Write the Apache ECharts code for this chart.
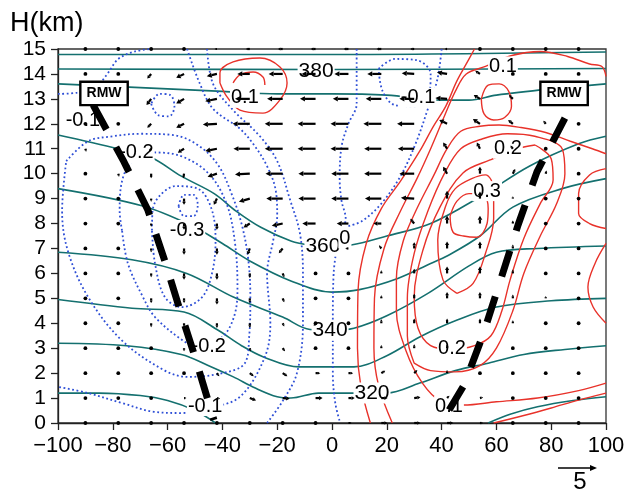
<!DOCTYPE html>
<html><head><meta charset="utf-8">
<script src="https://cdn.jsdelivr.net/npm/echarts@6/dist/echarts.min.js"></script>
<style>html,body{margin:0;padding:0;background:#fff}#c{width:628px;height:489px}</style>
</head><body><div id="c"></div>
<script>
// ---------- data ----------
const xTicks = [-100,-80,-60,-40,-20,0,20,40,60,80,100];
const yTicks = [0,1,2,3,4,5,6,7,8,9,10,11,12,13,14,15];

// potential temperature isentropes (x km, H km)
const th310L = [[-100,1.2],[-85,1.2],[-70,1.1],[-60,0.9],[-50,0.5],[-42.5,0]];
const th310R = [[57,0],[65,0.35],[75,0.65],[88,0.9],[100,1.05]];
const th320 = [[-100,3.2],[-75,3.1],[-55,2.75],[-45,2.3],[-36,1.85],[-28,1.4],[-20,1.05],[-15,1.0],[-5,1.2],[7,1.2],[20,1.2],[32,1.6],[45,2.1],[57,2.4],[70,2.75],[85,2.95],[100,3.1]];
const th330 = [[-100,4.95],[-73,4.6],[-54,4.45],[-42,3.75],[-33,3.1],[-25,2.65],[-12,2.25],[0,2.25],[8,2.25],[20,2.7],[32,3.45],[45,4.1],[60,4.65],[80,4.9],[100,5.0]];
const th340 = [[-100,6.85],[-73,6.55],[-53,6.0],[-36,5.05],[-18,4.25],[-8,3.75],[0,3.72],[8,3.8],[20,4.3],[35,5.2],[50,6.3],[60,6.85],[75,7.0],[100,7.1]];
const th350 = [[-100,9.4],[-69,8.7],[-51,7.9],[-40,7.2],[-30,6.5],[-15,5.7],[0,5.25],[10,5.35],[24,5.8],[36,6.4],[42,6.7],[54,7.5],[66,8.66],[84,9.4],[100,9.8]];
const th360 = [[-100,11.55],[-78,11.0],[-66,10.65],[-55,9.9],[-43,9.2],[-35,8.5],[-26,7.85],[-15,7.3],[-8,7.14],[0,7.1],[7,7.14],[20,7.5],[36,8.0],[54,9.07],[72,10.3],[90,11.2],[100,11.5]];
const th370 = [[-100,13.6],[-80,13.5],[-60,13.4],[-40,13.3],[-20,13.2],[0,13.2],[20,13.15],[40,12.95],[50,12.95],[60,13.15],[80,13.4],[100,13.6]];
const th380 = [[-100,14.2],[0,14.18],[100,14.22]];
const th390 = [[-100,14.78],[0,14.78],[100,14.88]];

// positive contours (red)
const red1 = [[14,0],[10.5,1.5],[9.3,3],[9.5,5.3],[12.5,7.2],[18,8.6],[25,9.7],[32,10.9],[37,11.9],[41.5,12.7],[45.5,13.7],[49,14.4],[52,15]];
const red2 = [[22,0],[17,1.5],[15.3,3],[15.5,5],[19,7],[25,8.5],[31,9.8],[36,11.0],[41,12.3],[45,13.3],[49,14.0],[56,14.3],[66,14.75],[76,14.9],[86,14.7],[94,14.4],[98.5,14.3],[100,13.9]];
const red3 = [[100,1.6],[90,1.3],[75,1.0],[60,0.85],[48,0.72],[40,0.85],[33,1.6],[27,2.9],[23.5,4.5],[23.5,5.8],[26,7.3],[31,8.6],[37,9.9],[42,11.0],[47,11.7],[54,11.9],[61,11.95],[69,11.85],[78,11.65],[87,11.3],[95,11.0],[100,10.8]];
const red015 = [[30,2.4],[36,2.1],[45,2.05],[54,2.3],[60,3.0],[66,4.5],[70,6.0],[76,7.5],[82,8.8],[85,10.0],[84,11.0],[74,11.5],[64,11.6],[55,11.4],[47,11.0],[41,10.0],[35,8.5],[30,6.8],[27.5,5],[27.5,3.5],[30,2.4]];
const red02 = [[74.1,11.15],[68.6,11.03],[57.7,10.55],[47.8,10.03],[39.4,8.66],[33.2,6.94],[30,5.05],[31.4,3.8],[36,3.1],[44,2.95],[52,3.1],[58,3.5],[62,4.5],[65,5.74],[70,7.4],[76,8.8],[80.7,9.75],[80,10.6],[74.1,11.15]];
const red025 = [[45.6,5.2],[51.5,5.6],[56,6.8],[59,8.2],[59,9.4],[56,9.95],[51,9.8],[45,9.4],[41.5,8.7],[38.6,7.34],[40.5,5.74],[45.6,5.2]];
const red03 = [[43.1,8.3],[45.6,8.9],[50,9.2],[55.1,9.2],[57,8.6],[56.6,8.0],[52.9,7.45],[48,7.5],[44.2,7.65],[43.1,8.3]];
const redLoop = [[54.5,13.0],[55.5,12.4],[59,12.15],[63,12.25],[65.5,12.7],[64.5,13.3],[61,13.6],[57,13.55],[54.5,13.0]];
const redTL = [[-40.9,13.64],[-40.9,14.04],[-36.1,14.48],[-26.3,14.64],[-19,14.28],[-16.4,13.64],[-19,12.96],[-25.2,12.43],[-33.6,12.55],[-38.3,13.08],[-40.9,13.64]];
const redTLin = [[-36.1,13.64],[-33.6,13.96],[-28.8,14.08],[-25.2,13.88],[-24.5,13.56]];
const redR1 = [[100,10.2],[94,9.95],[90,9.2],[90,8.4],[94,8.0],[100,7.8]];
const redR2 = [[100,7.2],[96,6.4],[93.4,5.45],[95.3,4.65],[100,4.0]];
const redBot = [[59,0],[70,0.3],[80,0.6],[90,0.92],[100,1.2]];

// negative contours (blue dotted)
const blueL1 = [[-97,10.5],[-89,11.3],[-80,11.5],[-70,11.6],[-58,11.55],[-49,11.15],[-41.6,10.35],[-36.5,9.15],[-32.8,7.9],[-30.5,6.5],[-29.8,5.0],[-30.2,3.5],[-31.8,2.4],[-40,2.0],[-52.5,1.85],[-61,2.1],[-76.6,3.3],[-89,5.05],[-96.4,6.9],[-98.5,8.5],[-97,10.5]];
const blueL2 = [[-76.6,7.7],[-74.5,6.4],[-69,5.05],[-64.6,4.25],[-54.7,3.33],[-49,3.05],[-40,3.45],[-35.4,4.4],[-34.5,5.5],[-35.5,7.3],[-38.5,8.8],[-45,10.0],[-55,10.7],[-65,10.85],[-73,10.5],[-77,9.5],[-77.5,8.5],[-76.6,7.7]];
const blueL3 = [[-65.7,7.7],[-64.6,6.4],[-61,5.05],[-54.7,4.65],[-47.4,5.05],[-43.8,6.0],[-42.5,7.3],[-44,8.6],[-49,9.4],[-57,9.5],[-63,9.1],[-65.5,8.5],[-65.7,7.7]];
const blueL4 = [[-56,8.7],[-54,8.3],[-50.5,8.3],[-49,8.75],[-50.5,9.15],[-54,9.15],[-56,8.7]];
const blueO1 = [[-45.6,15],[-43.4,13.6],[-36.1,12.55],[-26.3,11.5],[-20,10.5],[-15.3,8.95],[-11.7,7.6],[-10.6,6],[-10.6,4.0],[-12.8,2.0],[-17.9,0.9],[-23.7,0]];
const blueO2 = [[-52.9,15],[-48.2,13.6],[-43.4,12.6],[-33.6,11.8],[-28.8,11.2],[-23.7,10.3],[-20.5,9.3],[-20,8.3],[-21.5,7.3],[-23.7,6.0],[-22.5,4.0],[-24.5,2.65],[-33.6,1.05],[-45,0.6],[-55,0.4],[-65,0.45],[-76.6,0.8],[-89,1.2],[-100,1.45]];
const blueU = [[-100,13.2],[-93,13.25],[-86,13.5],[-82,14.0],[-78,14.6],[-72,14.9],[-66,15]];
const blueUL = [[-66,12.8],[-63.5,12.35],[-59.5,12.3],[-57.5,12.7],[-59,13.15],[-63,13.2],[-66,12.8]];
const blueCL = [[9,15],[9,12.8],[6,12.0],[3.5,11.1],[2.8,9.8],[3.5,8.9],[5,8.2],[4.5,7.9]];
const blueCR = [[40,15],[38.5,13.8],[35,12.6],[30.5,11.2],[25,9.9],[18,8.8],[11,8.1],[6,7.9]];
const blueCLoop = [[17,14.2],[23,14.6],[31,14.55],[36,14.0],[35.5,13.2],[30,12.7],[23,12.75],[18.5,13.3],[17,14.2]];
const blueCV = [[2,7.2],[0.6,6],[0.3,4],[0.3,2],[1.2,0.8],[3,0]];

// RMW lines
const rmwLeft = [[-87.2,12.76],[-75.9,10.47],[-67.2,8.54],[-60.9,6.46],[-55.5,4.53],[-50,2.65],[-43.1,0.12]];
const rmwRight = [[85.0,12.23],[74.8,10.07],[67.9,7.94],[61.3,5.66],[55.1,3.53],[48.2,1.52],[40.1,0.04]];
const rmwBoxX = [-83.2, 84.7];
const rmwBoxH = [13.22, 13.22];

// labels
const thetaLabelText = ['380','360','340','320'];
const thetaLabelX = [-5.8,-3.3,-0.7,14.6];
const thetaLabelH = [14.12,7.1,3.72,1.2];
const cLabelText = ['0.1','-0.1','0.1','-0.1','-0.2','-0.3','-0.2','-0.1','0.2','0.3','0.2','0.1','0'];
const cLabelX = [62.4,31.4,-31.8,-90.9,-71.4,-52.9,-45,-46.3,64.2,56.6,43.8,42.7,4.7];
const cLabelH = [14.3,13.04,13.04,12.15,10.83,7.74,3.05,0.68,11.0,9.3,3.0,0.68,7.4];

// wind vectors: columns (km), rows (km), components (scale: arrow "5")
const xCols = [-90,-78,-66,-54,-42,-30,-18,-6,6,18,30,42,54,66,78,90];
const hRows = [15,14,13,12,11,10,9,8,7,6,5,4,3,2,1,0];
const uRows = [
 [0,0,0,0,-0.3,-0.5,-0.6,-0.6,-0.6,-0.6,-0.5,-0.3,0,0,0,0],
 [0,0,-0.5,-1.0,-1.3,-1.6,-1.8,-1.8,-1.8,-1.8,-1.6,-1.3,-0.6,0,0,0],
 [0,0,-0.6,-1.0,-1.5,-1.9,-2.0,-2.0,-2.0,-2.0,-1.9,-1.5,-0.8,-0.5,0,0],
 [0,0,-0.5,-1.0,-1.8,-2.2,-2.3,-2.3,-2.3,-2.3,-2.2,-1.0,-0.9,-0.6,-0.3,0],
 [0.1,0,-0.3,-0.8,-1.5,-2.1,-2.3,-2.3,-2.3,-2.2,-2.1,-0.5,-0.4,-0.3,0,0],
 [0,0.1,0,-0.1,-1.2,-1.9,-2.2,-2.2,-2.2,-2.2,-1.9,-0.5,0,0.3,0.1,0],
 [0,0,0,0,-0.4,-1.4,-2.1,-2.2,-2.2,-2.1,-1.7,0,0,0,0,0],
 [0,0,0,0,0,-0.8,-1.4,-1.7,-1.5,-1.0,-0.5,0,0,0,0,0],
 [0,0,0,0,0,-0.3,-0.5,-0.3,-0.4,-0.3,0,0,0,0,0,0],
 [0,0,0,0,0,0,0.2,0,0,0,0,0,0,0,0,0],
 [0,0,0,0,0,0,0.2,0,0,0,0,0,0,0,0,0],
 [0,0,0,0,0,0,0.2,0,0,0,0,0,0,0,0,0],
 [0,0,0,0,0,0.1,0.3,0,0,0,0,0,0,0,0,0],
 [0,0,0,0,0.3,0.5,0.6,0.6,0.6,0.5,0.4,0,0,0,0,0],
 [0,0,0,0.3,0.4,0.8,0.9,0.9,0.8,0.8,0.8,0.3,0.4,0,0,0],
 [0,0,0,0,0,0,0,0,0.4,0.8,0.8,0.8,0.4,0,0,0]
];
const wRows = [
 [0,0,0,0,0,0,0,0,0,0,0,0,0,0,0,0],
 [0,0,-0.6,-0.5,-0.3,0,0,0,0,0,0.1,0.2,0.4,0,0,0],
 [0,0,-0.8,-0.6,-0.3,0,0,0,0,0,0,0.1,0.5,0.5,0,0],
 [0,0,-0.5,-0.5,-0.1,0,0,0,0,0,0,0.5,0.6,0.5,0.4,0],
 [-0.4,0,-0.4,-0.5,-0.3,0,0,0,0,0,0,0.8,0.8,0.4,0,0],
 [0,-0.4,-0.6,-0.6,-0.4,-0.1,0,0,0,0,0,0.9,0.9,0.6,0.4,0],
 [0,0,-0.4,-0.8,-0.8,-0.4,0,0,0,0,0.1,1.0,0.9,0.3,0,0],
 [0,0,-0.4,-0.8,-0.8,-0.5,-0.3,0,0,0,0.6,1.0,1.0,0.4,0,0],
 [0,0,-0.5,-0.8,-0.8,-0.8,-0.6,0,0,0.4,0.8,0.9,0.9,0.5,0,0],
 [0,0,-0.5,-0.8,-0.8,-0.6,-0.5,0,0,0.4,0.6,0.9,0.9,0.5,0,0],
 [0,0,-0.6,-0.6,-0.8,-0.6,-0.5,0,0,0.4,0.6,0.8,0.8,0.5,0.3,0],
 [0,0,-0.5,-0.5,-0.6,-0.6,-0.4,0,0,0.5,0.6,0.6,0.6,0.4,0,0],
 [0,0,0,-0.4,-0.4,-0.4,-0.4,0,0,0.4,0.5,0.5,0.4,0,0,0],
 [0,0,0,0,-0.4,-0.4,-0.4,0,0,0.3,0.4,0.4,0,0,0,0],
 [0,0,0,0,-0.1,-0.3,-0.1,0,0,0,0.1,0.3,0.1,0,0,0],
 [0,0,0,0,0,0,0,0,0,0,0,0,0,0,0,0]
];
const scaleValue = 5;

// ---------- chart ----------
const FONT = '"Liberation Sans", Arial, sans-serif';
const PX_PER_UNIT = 39 / scaleValue;
const TEAL = '#14706f', RED = '#e8322a', BLUE = '#2e4fd6';

function curve(data, color, width, type, z, smooth) {
  return { type: 'line', data: data, showSymbol: false, symbol: 'none', silent: true,
    smooth: smooth === undefined ? 0.35 : smooth, z: z || 2, animation: false,
    lineStyle: { color: color, width: width, type: type || 'solid' } };
}

const series = [];
[th310L, th310R, th320, th330, th340, th350, th360, th370, th380, th390].forEach(d => series.push(curve(d, TEAL, 1.6, 'solid', 2)));
[red1, red2, red3, red015, red02, red025, red03, redLoop, redTL, redTLin, redR1, redR2, redBot].forEach(d => series.push(curve(d, RED, 1.4, 'solid', 2)));
[blueL1, blueL2, blueL3, blueL4, blueO1, blueO2, blueU, blueUL, blueCL, blueCR, blueCLoop, blueCV].forEach(d => series.push(curve(d, BLUE, 1.8, [1.8, 2.6], 2)));

function textSeries(texts, xs, hs, fontSize, z) {
  return { type: 'custom', coordinateSystem: 'cartesian2d', silent: true, z: z, animation: false,
    data: texts.map((t, i) => [xs[i], hs[i], i]),
    renderItem: function (params, api) {
      const p = api.coord([api.value(0), api.value(1)]);
      return { type: 'text', x: p[0], y: p[1], style: { text: texts[api.value(2)], fill: '#000',
        font: fontSize + 'px ' + FONT, align: 'center', verticalAlign: 'middle',
        backgroundColor: '#fff', padding: [0, 1] } };
    } };
}
series.push(textSeries(thetaLabelText, thetaLabelX, thetaLabelH, 21, 3));
series.push(textSeries(cLabelText, cLabelX, cLabelH, 20, 3));

const vecData = [];
hRows.forEach((h, i) => xCols.forEach((x, j) => vecData.push([x, h, uRows[i][j], wRows[i][j]])));
series.push({ type: 'custom', coordinateSystem: 'cartesian2d', silent: true, z: 4, animation: false,
  data: vecData, encode: { x: 0, y: 1 },
  renderItem: function (params, api) {
    const p = api.coord([api.value(0), api.value(1)]);
    const dx = api.value(2) * PX_PER_UNIT, dy = -api.value(3) * PX_PER_UNIT;
    const len = Math.sqrt(dx * dx + dy * dy);
    if (len < 1.5) {
      return { type: 'circle', shape: { cx: p[0], cy: p[1], r: 1.9 }, style: { fill: '#000' } };
    }
    const ex = p[0] + dx, ey = p[1] + dy;
    const ux = dx / len, uy = dy / len;
    const hl = Math.min(5, len * 0.5), hw = Math.min(2.6, len * 0.3);
    const bx = ex - ux * hl, by = ey - uy * hl;
    return { type: 'group', children: [
      { type: 'line', shape: { x1: p[0], y1: p[1], x2: bx, y2: by }, style: { stroke: '#000', lineWidth: 2.2 } },
      { type: 'polygon', shape: { points: [[ex, ey], [bx - uy * hw, by + ux * hw], [bx + uy * hw, by - ux * hw]] }, style: { fill: '#000' } }
    ] };
  } });

series.push(curve(rmwLeft, '#000', 7, [28, 20], 5, false));
series.push(curve(rmwRight, '#000', 7, [27, 21], 5, false));
series.push({ type: 'custom', coordinateSystem: 'cartesian2d', silent: true, z: 6, animation: false,
  data: rmwBoxX.map((x, i) => [x, rmwBoxH[i]]),
  renderItem: function (params, api) {
    const p = api.coord([api.value(0), api.value(1)]);
    return { type: 'text', x: p[0], y: p[1], style: { text: 'RMW', fill: '#000',
      font: 'bold 14px ' + FONT, align: 'center', verticalAlign: 'middle',
      backgroundColor: '#fff', borderColor: '#000', borderWidth: 2.4, padding: [4, 5, 3, 5] } };
  } });

const chart = echarts.init(document.getElementById('c'), null, { renderer: 'canvas' });
const axisCommon = {
  type: 'value', splitLine: { show: false },
  axisLine: { show: true, onZero: false, lineStyle: { color: '#222', width: 1.3 } },
  axisTick: { show: true, length: 7, inside: false, lineStyle: { color: '#222', width: 1.3 } }
};
chart.setOption({
  animation: false,
  backgroundColor: '#fff',
  grid: { left: 58, right: 22, top: 49, bottom: 66, show: true, borderColor: '#333', borderWidth: 1.3, backgroundColor: 'transparent' },
  xAxis: Object.assign({}, axisCommon, { min: xTicks[0], max: xTicks[xTicks.length - 1], interval: 20,
    axisLabel: { fontSize: 22, fontFamily: FONT, color: '#000', margin: 12,
      formatter: v => String(v).replace('-', '\u2212') } }),
  yAxis: Object.assign({}, axisCommon, { min: yTicks[0], max: yTicks[yTicks.length - 1], interval: 1,
    axisLabel: { fontSize: 21, fontFamily: FONT, color: '#000', margin: 12 } }),
  graphic: [
    { type: 'text', left: 10, top: 10, style: { text: 'H(km)', font: '27px ' + FONT, fill: '#000' } },
    { type: 'line', shape: { x1: 558, y1: 468, x2: 558 + scaleValue * PX_PER_UNIT - 5, y2: 468 }, style: { stroke: '#000', lineWidth: 1.5 } },
    { type: 'polygon', shape: { points: [[558 + scaleValue * PX_PER_UNIT, 468], [558 + scaleValue * PX_PER_UNIT - 7, 465], [558 + scaleValue * PX_PER_UNIT - 7, 471]] }, style: { fill: '#000' } },
    { type: 'text', x: 580, y: 482, style: { text: String(scaleValue), font: '24px ' + FONT, fill: '#000', align: 'center', verticalAlign: 'middle' } }
  ],
  series: series
});
</script>
</body></html>
